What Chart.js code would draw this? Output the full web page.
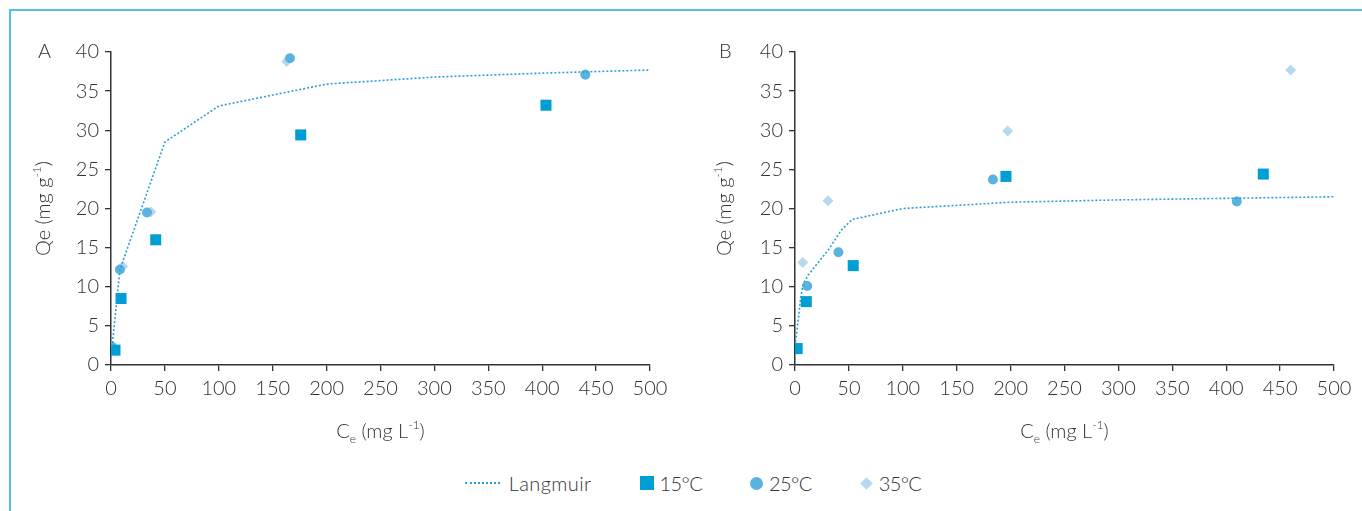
<!DOCTYPE html>
<html>
<head>
<meta charset="utf-8">
<script src="https://cdn.jsdelivr.net/npm/chart.js@4.4.1/dist/chart.umd.min.js"></script>
<style>
  html, body { margin: 0; padding: 0; background: #fff; }
  body { width: 1362px; height: 511px; position: relative; overflow: hidden; font-family: Lato, "Open Sans", sans-serif; }
  #frame { position: absolute; left: 9px; top: 9px; width: 1400px; height: 560px; border-left: 2px solid #5bbde3; border-top: 2px solid #5bbde3; }
  .panel { position: absolute; top: 0; width: 681px; height: 460px; }
  #legend { position: absolute; top: 471px; left: 0; width: 1386px; display: flex; justify-content: center; align-items: center; font-weight: 300; font-size: 20px; color: #333; }
  #legend .item { display: flex; align-items: center; margin: 0 24px; }
  #legend .sw { margin-right: 6px; }
  #legend .t { letter-spacing: 0.4px; }
  #legend .d { letter-spacing: -0.6px; }
</style>
</head>
<body>
<div id="frame"></div>
<div class="panel" style="left:0"><canvas id="chartA"></canvas></div>
<div class="panel" style="left:681px"><canvas id="chartB"></canvas></div>
<div id="legend">
  <div class="item"><span class="sw" style="width:35px;height:0;border-top:2px dotted #2a9fd8;margin-right:9px"></span><span class="t">Langmuir</span></div>
  <div class="item"><span class="sw" style="width:14px;height:14px;background:#009fd3"></span><span class="d">15°C</span></div>
  <div class="item"><span class="sw" style="width:13px;height:13px;border-radius:50%;background:#5ab3df"></span><span class="d">25°C</span></div>
  <div class="item"><span class="sw" style="width:9px;height:9px;background:#b7d9f0;transform:rotate(45deg);margin:0 8px 0 2px"></span><span class="d">35°C</span></div>
</div>
<script>
// Panel A
const ce15A = [3.7, 9.3, 41.5, 176, 403.5];
const qe15A = [1.9, 8.5, 16.0, 29.4, 33.2];
const ce25A = [1, 8.3, 33.4, 166, 440];
const qe25A = [2.3, 12.2, 19.5, 39.2, 37.1];
const ce35A = [2, 10.9, 37, 163, 440];
const qe35A = [2.3, 12.6, 19.6, 38.8, 37.2];
const ceLangA = [1, 8.3, 50, 100, 200, 300, 400, 500];
const qeLangA = [2.3, 12.2, 28.5, 33.1, 35.9, 36.8, 37.3, 37.7];

// Panel B
const ce15B = [2, 10.5, 54, 195.7, 434.4];
const qe15B = [2.1, 8.1, 12.7, 24.1, 24.4];
const ce25B = [1.2, 11.3, 40.3, 183.6, 409.8];
const qe25B = [2.0, 10.1, 14.4, 23.7, 20.9];
const ce35B = [1.5, 7.2, 30.6, 197.3, 459.8];
const qe35B = [2.2, 13.1, 21.0, 29.9, 37.7];
const ceLangB = [0.5, 3.7, 5.3, 7.7, 12.3, 18.6, 30.9, 43.3, 53, 100, 200, 300, 400, 500];
const qeLangB = [3.0, 6.6, 8.7, 10.4, 11.5, 12.6, 14.7, 17.3, 18.6, 20.0, 20.8, 21.1, 21.3, 21.5];

const xTicks = [0, 50, 100, 150, 200, 250, 300, 350, 400, 450, 500];
const yTicks = [0, 5, 10, 15, 20, 25, 30, 35, 40];

const textColor = '#333';
const fontFam = 'Lato, "Open Sans", sans-serif';

function pts(xs, ys) { return xs.map((x, i) => ({ x: x, y: ys[i] })); }

function drawRich(ctx, parts, cx, cy) {
  const big = '300 20px ' + fontFam, small = '300 12px ' + fontFam;
  let total = 0;
  parts.forEach(p => { ctx.font = p.s ? small : big; p.w = ctx.measureText(p.t).width; total += p.w; });
  let x = cx - total / 2;
  ctx.textAlign = 'left';
  ctx.textBaseline = 'middle';
  parts.forEach(p => {
    ctx.font = p.s ? small : big;
    const dy = p.s === 'sub' ? 7 : p.s === 'sup' ? -7 : 0;
    ctx.fillText(p.t, x, cy + dy);
    x += p.w;
  });
}

const panelText = {
  id: 'panelText',
  afterDraw(chart, args, opts) {
    const ctx = chart.ctx, a = chart.chartArea;
    ctx.save();
    ctx.fillStyle = textColor;
    ctx.font = '300 20px ' + fontFam;
    ctx.textAlign = 'left';
    ctx.textBaseline = 'middle';
    ctx.fillText(opts.letter, 38, a.top);
    drawRich(ctx, [{ t: 'C' }, { t: 'e', s: 'sub' }, { t: ' (mg L' }, { t: '-1', s: 'sup' }, { t: ')' }], (a.left + a.right) / 2, a.bottom + 67);
    ctx.translate(44, (a.top + a.bottom) / 2);
    ctx.rotate(-Math.PI / 2);
    drawRich(ctx, [{ t: 'Qe (mg g' }, { t: '-1', s: 'sup' }, { t: ')' }], 0, 0);
    ctx.restore();
  }
};

function makeChart(id, letter, yWidth, padRight, d) {
  new Chart(document.getElementById(id), {
    type: 'scatter',
    data: {
      datasets: [
        { label: 'Langmuir', data: pts(d.langX, d.langY), showLine: true, borderColor: '#2a9fd8', borderWidth: 1.6, borderDash: [2, 2], pointRadius: 0, fill: false },
        { label: '15°C', data: pts(d.x15, d.y15), pointStyle: 'rect', pointRadius: 7.8, backgroundColor: '#009fd3', borderWidth: 0 },
        { label: '25°C', data: pts(d.x25, d.y25), pointStyle: 'circle', pointRadius: 5, backgroundColor: '#5ab3df', borderWidth: 0 },
        { label: '35°C', data: pts(d.x35, d.y35), pointStyle: 'rectRot', pointRadius: 5.5, backgroundColor: '#b7d9f0', borderWidth: 0 }
      ]
    },
    options: {
      responsive: true,
      maintainAspectRatio: false,
      animation: false,
      layout: { padding: { left: 0, top: 52, right: padRight, bottom: 0 } },
      plugins: { legend: { display: false }, tooltip: { enabled: false }, panelText: { letter: letter } },
      scales: {
        x: {
          type: 'linear', min: 0, max: 500,
          afterBuildTicks: s => { s.ticks = xTicks.map(v => ({ value: v })); },
          afterFit: s => { s.height = 95; },
          grid: { display: true, drawOnChartArea: false, drawTicks: true, tickLength: 6, color: '#333', lineWidth: 1.3 },
          border: { display: true, color: '#333', width: 1.5 },
          ticks: { color: textColor, font: { family: fontFam, size: 20, weight: 300 }, padding: 6, maxRotation: 0 }
        },
        y: {
          type: 'linear', min: 0, max: 40,
          afterBuildTicks: s => { s.ticks = yTicks.map(v => ({ value: v })); },
          afterFit: s => { s.width = yWidth; },
          grid: { display: true, drawOnChartArea: false, drawTicks: true, tickLength: 6, color: '#333', lineWidth: 1.3 },
          border: { display: true, color: '#333', width: 1.5 },
          ticks: { color: textColor, font: { family: fontFam, size: 20, weight: 300 }, padding: 6 }
        }
      }
    },
    plugins: [panelText]
  });
}

makeChart('chartA', 'A', 111, 31, { langX: ceLangA, langY: qeLangA, x15: ce15A, y15: qe15A, x25: ce25A, y25: qe25A, x35: ce35A, y35: qe35A });
makeChart('chartB', 'B', 114, 28, { langX: ceLangB, langY: qeLangB, x15: ce15B, y15: qe15B, x25: ce25B, y25: qe25B, x35: ce35B, y35: qe35B });
</script>
</body>
</html>
